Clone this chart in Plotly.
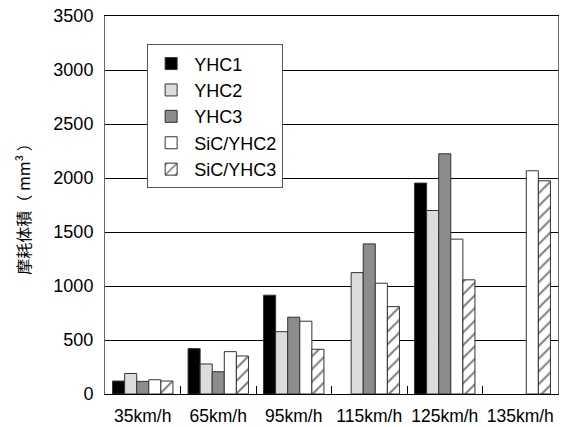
import plotly.graph_objects as go

categories = ["35km/h", "65km/h", "95km/h", "115km/h", "125km/h", "135km/h"]
yhc1 = [120, 420, 915, None, 1953, None]
yhc2 = [190, 278, 577, 1124, 1699, None]
yhc3 = [117, 206, 711, 1390, 2224, None]
sic_yhc2 = [132, 392, 674, 1026, 1434, 2067]
sic_yhc3 = [120, 352, 414, 809, 1057, 1974]

series = [
    ("YHC1", yhc1, "#000000", ""),
    ("YHC2", yhc2, "#dcdcdc", ""),
    ("YHC3", yhc3, "#8c8c8c", ""),
    ("SiC/YHC2", sic_yhc2, "#ffffff", ""),
    ("SiC/YHC3", sic_yhc3, "#ffffff", "/"),
]

font_family = "Liberation Sans, Arial, sans-serif"

fig = go.Figure()
for name, vals, color, pat in series:
    marker = dict(color=color, line=dict(color="#333333", width=1))
    if pat:
        marker["pattern"] = dict(shape=pat, fgcolor="#000000", bgcolor="#ffffff",
                                 size=9, solidity=0.22, fillmode="overlay")
    fig.add_trace(go.Bar(name=name, x=categories, y=vals, marker=marker))

fig.update_layout(
    width=565, height=427,
    margin=dict(l=105, r=7, t=16, b=33),
    paper_bgcolor="white", plot_bgcolor="white",
    barmode="group", bargap=0.2, bargroupgap=0,
    font=dict(family=font_family, size=18, color="#000000"),
    showlegend=True,
    legend=dict(x=0.093, y=0.925, xanchor="left", yanchor="top",
                bgcolor="white", bordercolor="#555555", borderwidth=1,
                font=dict(size=18), tracegroupgap=0,
                itemwidth=36),
    xaxis=dict(
        showline=True, linecolor="#000000", linewidth=1, mirror=True,
        ticks="inside", tickson="boundaries", ticklen=8, tickcolor="#000000",
        showgrid=False, ticklabelstandoff=6, tickangle=0, automargin=False,
        tickfont=dict(size=17.5),
    ),
    yaxis=dict(
        range=[0, 3500], dtick=500, tick0=0,
        showline=True, linecolor="#666666", linewidth=1, mirror=True,
        showgrid=True, gridcolor="#000000", gridwidth=1,
        ticks="", ticklabelstandoff=7, zeroline=False, automargin=False,
        tickfont=dict(size=18),
        title=dict(text="摩耗体積（ mm³ ）", standoff=18,
                   font=dict(family="Noto Sans CJK JP", size=16)),
    ),
)

fig.write_html("out.html")
